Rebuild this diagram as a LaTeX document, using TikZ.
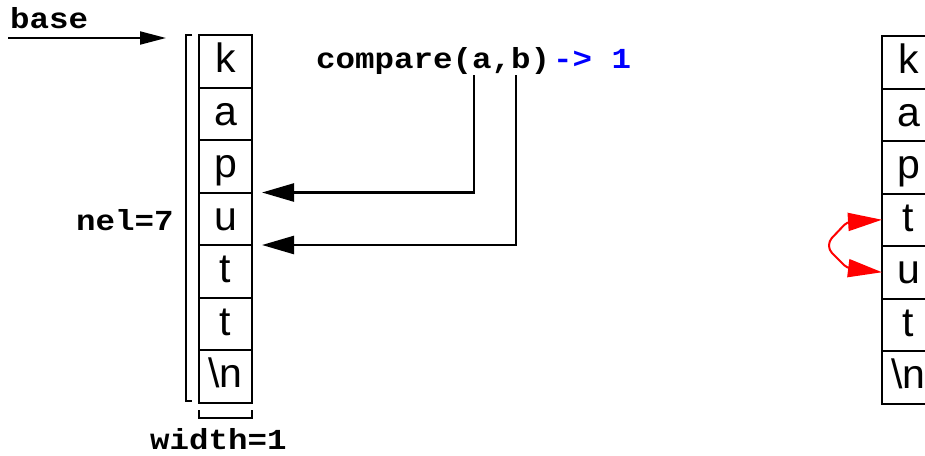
\documentclass[tikz,border=0pt]{standalone}
\usepackage{fontspec}
\setmainfont{Liberation Sans}
\newfontfamily\monof[FakeStretch=1.12]{Liberation Mono}
\usetikzlibrary{arrows.meta}
\tikzset{
  cell/.style={draw, line width=2pt, minimum width=53pt, inner sep=0pt, outer sep=0pt,
    text height=37.5pt, text depth=15pt, font=\fontsize{41}{45}\selectfont},
  mono/.style={inner sep=0pt, font=\monof\bfseries\fontsize{29}{32}\selectfont},
  bigarrow/.style={line width=2.5pt, -{Triangle[length=32pt, width=18pt]}},
  basearrow/.style={line width=2pt, -{Triangle[length=26pt, width=13pt]}},
  swaparrow/.style={red, line width=2pt, rounded corners=4pt,
    {Triangle[length=34pt, width=18pt]}-{Triangle[length=34pt, width=18pt]}},
  bracket/.style={line width=2pt},
}
\begin{document}
\begin{tikzpicture}[x=1pt, y=-1pt]
\useasboundingbox (0,0) rectangle (925,455);
% left array
\foreach \i/\t in {1/k,2/a,3/p,4/u,5/t,6/t,7/\textbackslash n}{
  \node[cell] (L\i) at (225.5, {35+26.25+52.5*(\i-1)}) {\t};
}
% right array
\foreach \i/\t in {1/k,2/a,3/p,4/t,5/u,6/t,7/\textbackslash n}{
  \node[cell] (R\i) at (908.5, {36+26.25+52.5*(\i-1)}) {\t};
}
% labels
\node[mono, anchor=base west] (base) at (10,28) {base};
\node[mono, anchor=base west] (nel) at (76,230) {nel=7};
\node[mono, anchor=base west] (width) at (150,449) {width=1};
\node[mono, anchor=base west] (cmp) at (316,68) {compare(a,b)};
\node[mono, anchor=base west, text=blue] (res) at (553,68) {-> 1};
% base arrow
\coordinate (bs) at (8,38);
\coordinate (bt) at (166,38);
\draw[basearrow] (bs) -- (bt);
% brackets
\draw[bracket] (192,35) -- (186,35) -- (186,401) -- (192,401);
\draw[bracket, line width=1.5pt] (199,410) -- (199,418) -- (252,418) -- (252,410);
% compare arrows
\coordinate (ca) at (474,75);
\coordinate (cb) at (516,75);
\draw[bigarrow] (ca) |- ([xshift=10pt]L3.south east);
\draw[bigarrow] (cb) |- ([xshift=10pt]L4.south east);
% swap arrow
\draw[swaparrow] (R4.west) -- (847,222) -- (829,241) -- (829,250) -- (847,268) -- (R5.west);
\end{tikzpicture}
\end{document}
